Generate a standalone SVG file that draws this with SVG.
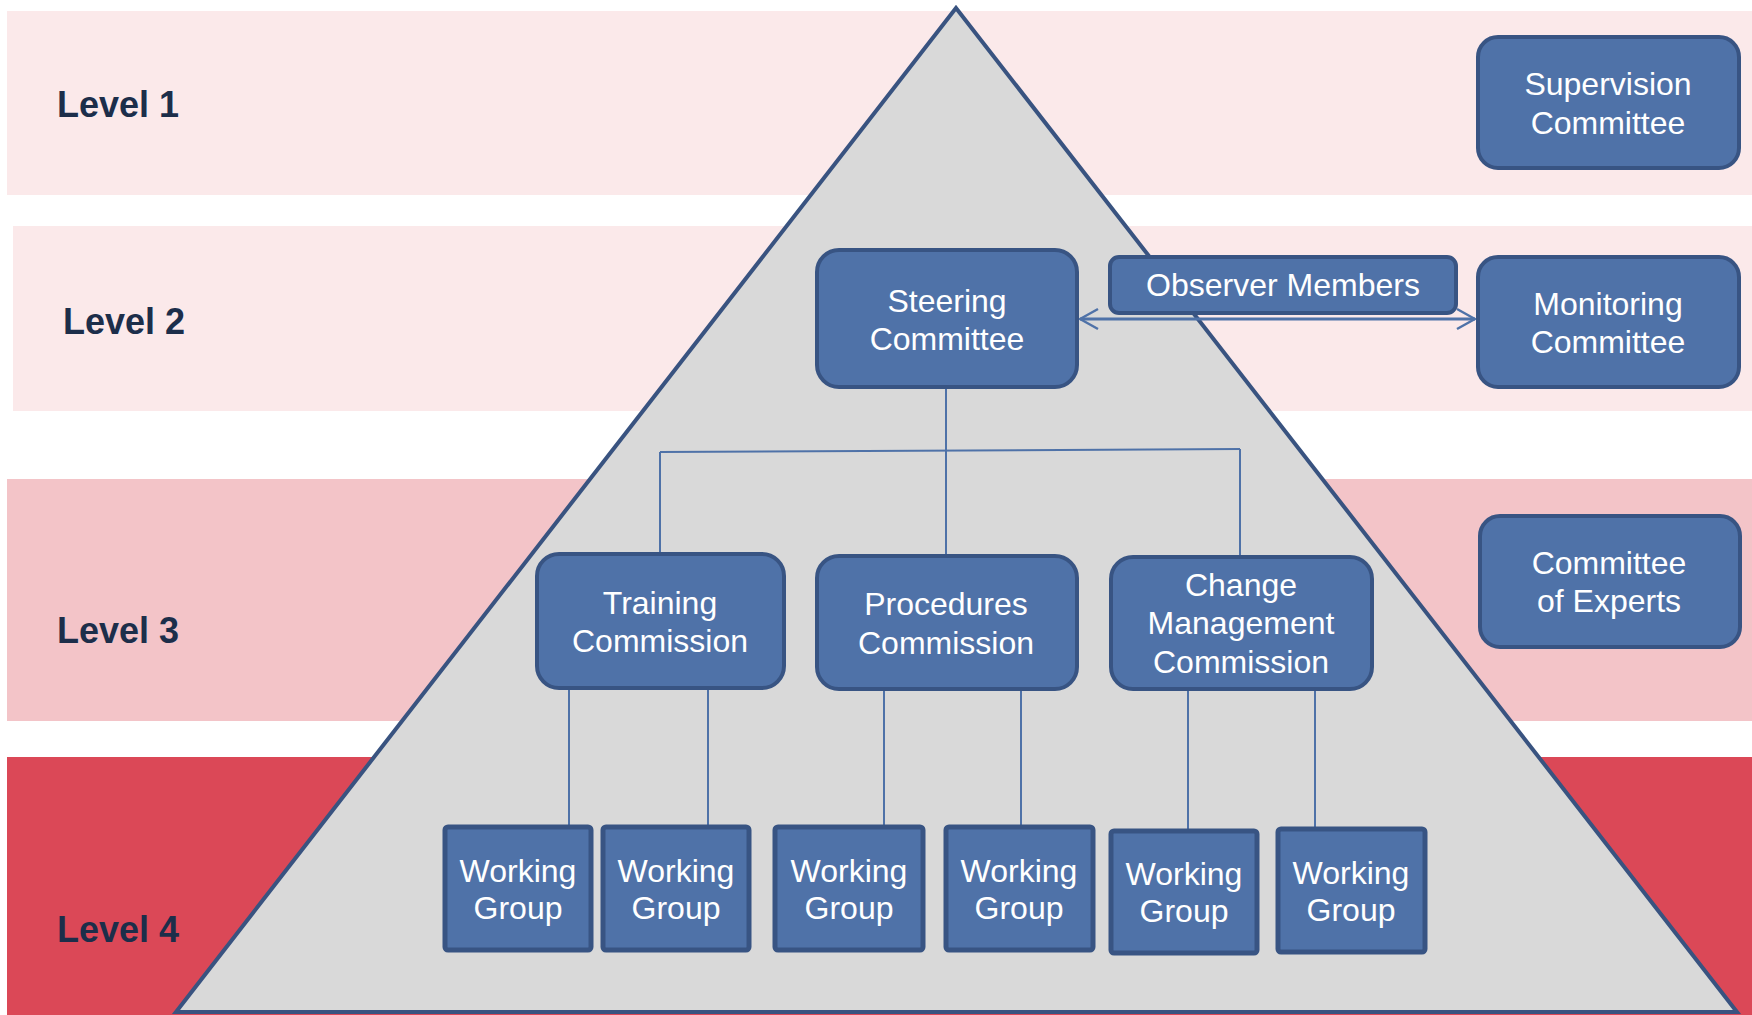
<svg xmlns="http://www.w3.org/2000/svg" width="1752" height="1015" viewBox="0 0 1752 1015">
<style>
.lvl{font-family:"Liberation Sans",Arial,sans-serif;font-weight:bold;font-size:36px;fill:#1C2E4A}
.bx{fill:#4F72A8;stroke:#385483;stroke-width:4}
.wg{fill:#4F72A8;stroke:#385483;stroke-width:5}
.t{font-family:"Liberation Sans",Arial,sans-serif;font-size:32px;fill:#FFFFFF;text-anchor:middle}
.c{fill:none;stroke:#4F72A8;stroke-width:2}
</style>
<defs>
<marker id="ah" viewBox="0 0 20 24" refX="19" refY="12" markerWidth="20" markerHeight="24" markerUnits="userSpaceOnUse" orient="auto-start-reverse">
<path d="M1,2 L19,12 L1,22" fill="none" stroke="#4F72A8" stroke-width="2.5"/>
</marker>
</defs>
<g id="bands">
<rect x="7" y="11" width="1745" height="184" fill="#FBE9EA"/>
<rect x="13" y="226" width="1739" height="185" fill="#FBE9EA"/>
<rect x="7" y="479" width="1745" height="242" fill="#F3C4C8"/>
<rect x="7" y="757" width="1745" height="258" fill="#DB4857"/>
</g>
<g id="levels">
<text class="lvl" x="57" y="117">Level 1</text>
<text class="lvl" x="63" y="334">Level 2</text>
<text class="lvl" x="57" y="643">Level 3</text>
<text class="lvl" x="57" y="942">Level 4</text>
</g>
<polygon id="pyramid" points="956,8 176,1012 1737,1012" fill="#D9D9D9" stroke="#395380" stroke-width="4" stroke-linejoin="miter"/>
<g id="connectors">
<path class="c" d="M946,387 V556"/>
<path class="c" d="M660,452 L1240,449" stroke-width="2.5"/>
<path class="c" d="M660,452 V554"/>
<path class="c" d="M1240,449 V557"/>
<path class="c" d="M569,688 V827"/>
<path class="c" d="M708,688 V827"/>
<path class="c" d="M884,689 V827"/>
<path class="c" d="M1021,689 V827"/>
<path class="c" d="M1188,689 V831"/>
<path class="c" d="M1315,689 V829"/>
<path d="M1080,319 H1475" fill="none" stroke="#4F72A8" stroke-width="3" marker-start="url(#ah)" marker-end="url(#ah)"/>
</g>
<g id="supervision"><rect class="bx" x="1478" y="37" width="261" height="131" rx="20"/><text class="t" x="1608" y="95">Supervision</text><text class="t" x="1608" y="134">Committee</text></g>
<g id="monitoring"><rect class="bx" x="1478" y="257" width="261" height="130" rx="20"/><text class="t" x="1608" y="315">Monitoring</text><text class="t" x="1608" y="353">Committee</text></g>
<g id="experts"><rect class="bx" x="1480" y="516" width="260" height="131" rx="20"/><text class="t" x="1609" y="574">Committee</text><text class="t" x="1609" y="612">of Experts</text></g>
<g id="steering"><rect class="bx" x="817" y="250" width="260" height="137" rx="22"/><text class="t" x="947" y="312">Steering</text><text class="t" x="947" y="350">Committee</text></g>
<g id="observer"><rect class="bx" x="1110" y="257" width="346" height="56" rx="9"/><text class="t" x="1283" y="296">Observer Members</text></g>
<g id="training"><rect class="bx" x="537" y="554" width="247" height="134" rx="22"/><text class="t" x="660" y="614">Training</text><text class="t" x="660" y="652">Commission</text></g>
<g id="procedures"><rect class="bx" x="817" y="556" width="260" height="133" rx="22"/><text class="t" x="946" y="615">Procedures</text><text class="t" x="946" y="654">Commission</text></g>
<g id="change"><rect class="bx" x="1111" y="557" width="261" height="132" rx="22"/><text class="t" x="1241" y="596">Change</text><text class="t" x="1241" y="634">Management</text><text class="t" x="1241" y="673">Commission</text></g>
<g id="wg1"><rect class="wg" x="445" y="827" width="146" height="123" rx="3"/><text class="t" x="518" y="882">Working</text><text class="t" x="518" y="919">Group</text></g>
<g id="wg2"><rect class="wg" x="603" y="827" width="146" height="123" rx="3"/><text class="t" x="676" y="882">Working</text><text class="t" x="676" y="919">Group</text></g>
<g id="wg3"><rect class="wg" x="775" y="827" width="148" height="123" rx="3"/><text class="t" x="849" y="882">Working</text><text class="t" x="849" y="919">Group</text></g>
<g id="wg4"><rect class="wg" x="946" y="827" width="147" height="123" rx="3"/><text class="t" x="1019" y="882">Working</text><text class="t" x="1019" y="919">Group</text></g>
<g id="wg5"><rect class="wg" x="1111" y="831" width="146" height="122" rx="3"/><text class="t" x="1184" y="885">Working</text><text class="t" x="1184" y="922">Group</text></g>
<g id="wg6"><rect class="wg" x="1278" y="829" width="147" height="123" rx="3"/><text class="t" x="1351" y="884">Working</text><text class="t" x="1351" y="921">Group</text></g>
</svg>
